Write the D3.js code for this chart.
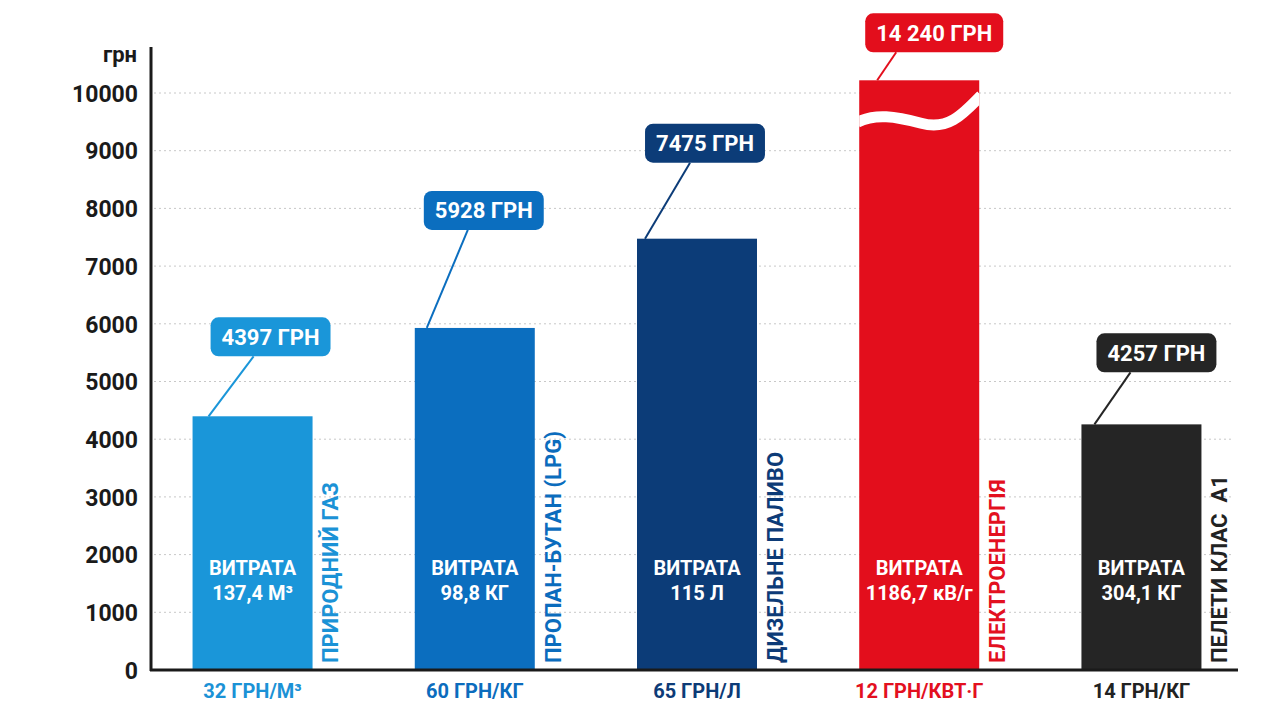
<!DOCTYPE html>
<html lang="uk">
<head>
    <meta charset="UTF-8">
    <title>Витрати на опалення</title>
    <script src="https://d3js.org/d3.v7.min.js"></script>
    <style>
        body {
            margin: 0;
            background: #fff;
            font-family: Roboto, 'Noto Sans', sans-serif;
            overflow: hidden;
        }
        text { font-weight: 700; }
        .grid line { stroke: #c8c8c8; stroke-dasharray: 2 3; stroke-width: 1; }
    </style>
</head>
<body>
    <div id="chart"></div>
    <script>
        // fuel types and what a season costs
        const fuels = ["ПРИРОДНИЙ ГАЗ", "ПРОПАН-БУТАН (LPG)", "ДИЗЕЛЬНЕ ПАЛИВО", "ЕЛЕКТРОЕНЕРГІЯ", "ПЕЛЕТИ КЛАС  А1"];
        const costs = [4397, 5928, 7475, 14240, 4257];
        const costLabels = ["4397 ГРН", "5928 ГРН", "7475 ГРН", "14 240 ГРН", "4257 ГРН"];
        const usage = ["137,4 М³", "98,8 КГ", "115 Л", "1186,7 кВ/г", "304,1 КГ"];
        const prices = ["32 ГРН/М³", "60 ГРН/КГ", "65 ГРН/Л", "12 ГРН/КВТ·Г", "14 ГРН/КГ"];
        const yTicks = [0, 1000, 2000, 3000, 4000, 5000, 6000, 7000, 8000, 9000, 10000];
        const yUnit = "грн";

        const colors = ["#1a96d9", "#0b6ebf", "#0c3c78", "#e30e1c", "#252525"];
        const labelColors = ["#1b92d6", "#0b6cbd", "#0d3b77", "#e3101f", "#222222"];

        // bars taller than this get cut with a wave
        const axisCap = 10220;

        // callout layout (px): gap above bar top, shift of box centre, leader start / end offsets
        const calloutLift = [60, 98, 76, 28, 52];
        const calloutShift = [18, 9, 8, 15, 15];
        const leaderFrom = [16, 12, 8, 18, 13];
        const leaderTo = [43, 44, 45, 31, 34];

        const width = 1280;
        const height = 718;

        const svg = d3.select("#chart").append("svg")
            .attr("width", width).attr("height", height);

        const x = d3.scaleBand()
            .domain(fuels)
            .range([141, 1253])
            .paddingInner(0.46)
            .paddingOuter(0.232);

        const y = d3.scaleLinear()
            .domain([0, 10000])
            .range([670, 93]);

        // gridlines
        svg.append("g")
            .attr("class", "grid")
            .selectAll("line")
            .data(yTicks.filter(d => d > 0))
            .enter().append("line")
            .attr("x1", 154).attr("x2", 1232)
            .attr("y1", d => y(d)).attr("y2", d => y(d));

        // y axis
        const yAxis = svg.append("g")
            .attr("transform", "translate(151,0)")
            .call(d3.axisLeft(y).tickValues(yTicks).tickSize(0).tickPadding(13).tickFormat(d3.format("d")));
        yAxis.select(".domain").remove();
        yAxis.selectAll("text")
            .attr("fill", "#1a1a1a")
            .style("font-size", "23px")
            .style("font-family", "Roboto, sans-serif")
            .style("font-weight", 700)
            .attr("dy", "0.36em");

        svg.append("line")
            .attr("x1", 151).attr("x2", 151)
            .attr("y1", 47).attr("y2", 671)
            .attr("stroke", "#1a1a1a").attr("stroke-width", 3);

        svg.append("text")
            .attr("x", 137).attr("y", 54)
            .attr("dy", "0.35em")
            .attr("text-anchor", "end")
            .attr("fill", "#1a1a1a")
            .style("font-size", "22px")
            .text(yUnit);

        const defs = svg.append("defs");

        const bars = svg.append("g")
            .selectAll("g")
            .data(fuels)
            .enter().append("g");

        bars.append("rect")
            .attr("x", d => x(d))
            .attr("width", x.bandwidth())
            .attr("y", (d, i) => y(Math.min(costs[i], axisCap)))
            .attr("height", (d, i) => y(0) - y(Math.min(costs[i], axisCap)))
            .attr("fill", (d, i) => colors[i]);

        // wave cut on bars that run off the scale
        fuels.forEach((f, i) => {
            if (costs[i] <= axisCap) return;
            const bx = x(f), by = y(axisCap), bw = x.bandwidth();
            defs.append("clipPath").attr("id", "cut" + i)
                .append("rect")
                .attr("x", bx).attr("y", by)
                .attr("width", bw).attr("height", y(0) - by);
            svg.append("path")
                .attr("clip-path", `url(#cut${i})`)
                .attr("d", `M${bx - 2},${by + 42} C${bx + 16},${by + 33} ${bx + 36},${by + 36} ${bx + 62},${by + 43} S${bx + 102},${by + 36} ${bx + bw + 2},${by + 15}`)
                .attr("fill", "none")
                .attr("stroke", "#fff")
                .attr("stroke-width", 11);
        });

        // x baseline
        svg.append("line")
            .attr("x1", 150).attr("x2", 1238)
            .attr("y1", 670).attr("y2", 670)
            .attr("stroke", "#1a1a1a").attr("stroke-width", 3);

        // usage text inside bars
        bars.append("text")
            .attr("x", d => x(d) + x.bandwidth() / 2)
            .attr("y", 568)
            .attr("dy", "0.35em")
            .attr("text-anchor", "middle")
            .attr("fill", "#fff")
            .style("font-size", "20px")
            .text("ВИТРАТА");

        bars.append("text")
            .attr("x", d => x(d) + x.bandwidth() / 2)
            .attr("y", 593)
            .attr("dy", "0.35em")
            .attr("text-anchor", "middle")
            .attr("fill", "#fff")
            .style("font-size", "20px")
            .text((d, i) => usage[i]);

        // fuel name, rotated, right of each bar
        bars.append("text")
            .attr("transform", d => `translate(${x(d) + x.bandwidth() + 18},663) rotate(-90)`)
            .attr("dy", "0.36em")
            .attr("fill", (d, i) => labelColors[i])
            .style("font-size", "22px")
            .style("white-space", "pre")
            .text(d => d);

        // unit price under the axis
        bars.append("text")
            .attr("x", d => x(d) + x.bandwidth() / 2)
            .attr("y", 691)
            .attr("dy", "0.35em")
            .attr("text-anchor", "middle")
            .attr("fill", (d, i) => labelColors[i])
            .style("font-size", "20px")
            .text((d, i) => prices[i]);

        // value callouts
        bars.each(function(d, i) {
            const g = d3.select(this);
            const top = y(Math.min(costs[i], axisCap));
            const cx = x(d) + x.bandwidth() / 2 + calloutShift[i];
            const boxH = 39;
            const boxBottom = top - calloutLift[i];

            const label = g.append("text")
                .attr("x", cx)
                .attr("y", boxBottom - boxH / 2)
                .attr("dy", "0.36em")
                .attr("text-anchor", "middle")
                .attr("fill", "#fff")
                .style("font-size", "22px")
                .text(costLabels[i]);
            const boxW = label.node().getComputedTextLength() + 22;
            const boxX = cx - boxW / 2;

            g.insert("rect", "text")
                .attr("x", boxX)
                .attr("y", boxBottom - boxH)
                .attr("width", boxW)
                .attr("height", boxH)
                .attr("rx", 8)
                .attr("fill", colors[i]);

            g.insert("line", "text")
                .attr("x1", x(d) + leaderFrom[i])
                .attr("y1", top)
                .attr("x2", boxX + leaderTo[i])
                .attr("y2", boxBottom)
                .attr("stroke", colors[i])
                .attr("stroke-width", 2);
        });
    </script>
</body>
</html>
